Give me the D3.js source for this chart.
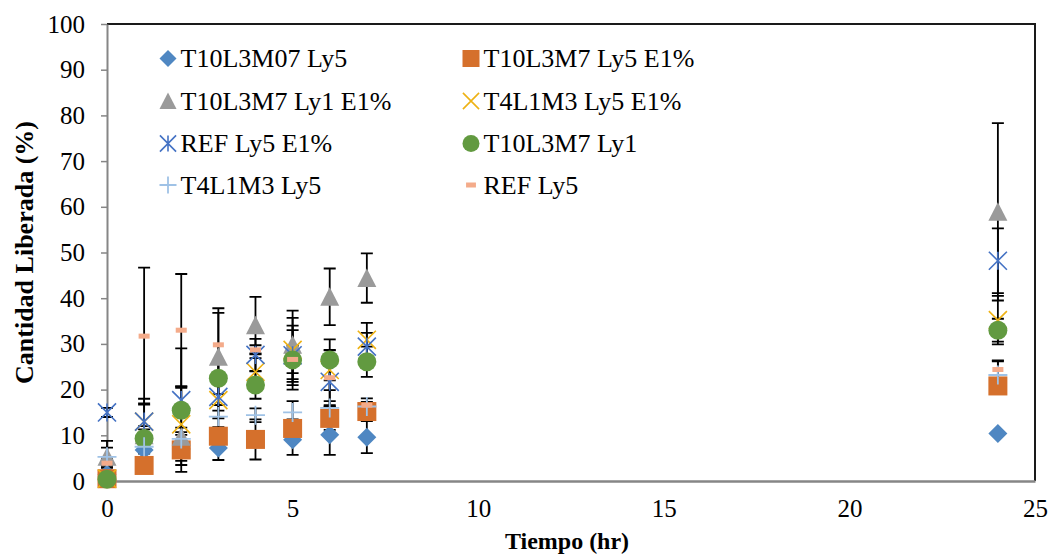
<!DOCTYPE html>
<html>
<head>
<meta charset="utf-8">
<script src="https://cdn.jsdelivr.net/npm/d3@7/dist/d3.min.js"></script>
<style>
  html, body { margin: 0; padding: 0; background: #ffffff; }
  svg { display: block; }
</style>
</head>
<body>
<svg id="chart" width="1051" height="557"></svg>
<script>
// Sampling times (hours)
const times = [0, 1, 2, 3, 4, 5, 6, 7, 24];

// Released amount (%) per formulation and its ± error
const t10l3m07Ly5      = [1.5, 6.8, 7.0, 7.2, 9.0, 9.0, 10.1, 9.6, 10.4];
const t10l3m07Ly5Err   = [0, 1.5, 1, 2.6, 1, 3.3, 4.4, 3.5, 0];
const t10l3m7Ly5E1     = [0.5, 3.4, 6.8, 9.8, 9.1, 11.5, 13.7, 15.2, 20.8];
const t10l3m7Ly5E1Err  = [0, 1, 3.3, 2, 4.4, 2, 2.5, 1.5, 1.5];
const t10l3m7Ly1E1     = [5.3, 10, 9.7, 27.2, 34.1, 29.8, 40.3, 44.4, 58.9];
const t10l3m7Ly1E1Err  = [3.5, 2, 2, 10.6, 6.2, 7.5, 6.2, 5.4, 19.4];
const t4l1m3Ly5E1      = [0.5, 13, 12.4, 17.7, 23.9, 28.7, 24.3, 30.9, 35.2];
const t4l1m3Ly5E1Err   = [0, 5, 8, 4, 3, 7, 4.4, 3.7, 5.3];
const refLy5E1         = [15, 13, 17.7, 18.4, 27.6, 27.5, 21.7, 29.4, 48.2];
const refLy5E1Err      = [1, 4, 3, 3, 3.5, 6.5, 5.4, 3, 7.1];
const t10l3m7Ly1       = [0.4, 9.3, 15.5, 22.5, 21, 26.5, 26.5, 26.1, 33];
const t10l3m7Ly1Err    = [0, 2, 13.5, 3.5, 3, 6.5, 4.5, 3.3, 2.5];
const t4l1m3Ly5        = [5.3, 7.5, 9.2, 14.1, 14.4, 15.0, 16.0, 16.3, 23.2];
const t4l1m3Ly5Err     = [2, 1.5, 1.5, 2.5, 1.5, 2.5, 1.5, 1, 3];
const refLy5           = [3.9, 31.7, 33, 29.8, 28.7, 26.6, 22.6, 16.6, 24.4];
const refLy5Err        = [1, 15, 12.3, 7, 1, 3, 6, 1.5, 2];

const seriesNames = [
  "T10L3M07 Ly5", "T10L3M7 Ly5 E1%", "T10L3M7 Ly1 E1%", "T4L1M3 Ly5 E1%",
  "REF Ly5 E1%", "T10L3M7 Ly1", "T4L1M3 Ly5", "REF Ly5"
];
const xTicks = [0, 5, 10, 15, 20, 25];
const yTicks = [0, 10, 20, 30, 40, 50, 60, 70, 80, 90, 100];

const seriesValues = [t10l3m07Ly5, t10l3m7Ly5E1, t10l3m7Ly1E1, t4l1m3Ly5E1,
                      refLy5E1, t10l3m7Ly1, t4l1m3Ly5, refLy5];
const seriesErrors = [t10l3m07Ly5Err, t10l3m7Ly5E1Err, t10l3m7Ly1E1Err, t4l1m3Ly5E1Err,
                      refLy5E1Err, t10l3m7Ly1Err, t4l1m3Ly5Err, refLy5Err];

// Marker styles, one per series
const markers = [
  { shape: "diamond",  color: "#4f87c2" },
  { shape: "square",   color: "#d5702c" },
  { shape: "triangle", color: "#9a9a9a" },
  { shape: "x",        color: "#eeb214" },
  { shape: "star",     color: "#4472c4" },
  { shape: "circle",   color: "#629a40" },
  { shape: "plus",     color: "#9fc2e6" },
  { shape: "dash",     color: "#f4ab8a" }
];

const series = seriesNames.map((name, i) => ({
  name,
  style: markers[i],
  points: times.map((t, j) => ({ t, v: seriesValues[i][j], e: seriesErrors[i][j] }))
}));

const svg = d3.select("#chart");
const W = 1051, H = 557;
const plot = { left: 107, right: 1035, top: 24, bottom: 481 };

const x = d3.scaleLinear().domain([0, 25]).range([plot.left, plot.right]);
const y = d3.scaleLinear().domain([0, 100]).range([plot.bottom, plot.top]);

svg.append("rect").attr("width", W).attr("height", H).attr("fill", "#ffffff");

// Plot frame (top and right edges)
svg.append("path")
  .attr("d", `M${plot.left},${plot.top}H${plot.right}V${plot.bottom}`)
  .attr("fill", "none").attr("stroke", "#1a1a1a").attr("stroke-width", 2);

const FONT = "'Liberation Serif', 'Times New Roman', serif";

// Y axis
const yAxis = svg.append("g")
  .attr("transform", `translate(${plot.left},0)`)
  .call(d3.axisLeft(y).tickValues(yTicks).tickSize(6).tickPadding(16).tickSizeOuter(0));
yAxis.select(".domain").attr("stroke", "#868686").attr("stroke-width", 2);
yAxis.selectAll(".tick line").attr("stroke", "#868686").attr("stroke-width", 1.5);
yAxis.selectAll(".tick text")
  .attr("font-family", FONT).attr("font-size", 25).attr("fill", "#000");

// X axis
const xAxis = svg.append("g")
  .attr("transform", `translate(0,${plot.bottom})`)
  .call(d3.axisBottom(x).tickValues(xTicks).tickSize(0).tickPadding(18).tickSizeOuter(0));
xAxis.select(".domain").attr("stroke", "#868686").attr("stroke-width", 2.5);
xAxis.selectAll(".tick text")
  .attr("font-family", FONT).attr("font-size", 25).attr("fill", "#000");

// Axis titles
svg.append("text")
  .attr("x", (plot.left + plot.right) / 2 - 4).attr("y", 549)
  .attr("text-anchor", "middle")
  .attr("font-family", FONT).attr("font-size", 24).attr("font-weight", "bold")
  .text("Tiempo (hr)");

svg.append("text")
  .attr("transform", `translate(33,${(plot.top + plot.bottom) / 2}) rotate(-90)`)
  .attr("text-anchor", "middle")
  .attr("font-family", FONT).attr("font-size", 26).attr("font-weight", "bold")
  .text("Cantidad Liberada (%)");

// Error bars (drawn beneath all markers)
const capHalf = 6;
const errLayer = svg.append("g");
series.forEach(s => {
  s.points.filter(p => p.e > 0).forEach(p => {
    const cx = x(p.t), yTop = y(p.v + p.e), yBot = y(p.v - p.e);
    errLayer.append("path")
      .attr("d", `M${cx},${yTop}V${yBot}M${cx - capHalf},${yTop}H${cx + capHalf}M${cx - capHalf},${yBot}H${cx + capHalf}`)
      .attr("fill", "none").attr("stroke", "#000").attr("stroke-width", 1.8);
  });
});

// Marker drawing helper
function drawMarker(g, style, cx, cy, size) {
  const h = size / 2;
  const c = style.color;
  switch (style.shape) {
    case "diamond":
      g.append("path").attr("d", `M${cx},${cy - h}L${cx + h},${cy}L${cx},${cy + h}L${cx - h},${cy}Z`)
        .attr("fill", c);
      break;
    case "square":
      g.append("rect").attr("x", cx - h).attr("y", cy - h).attr("width", size).attr("height", size)
        .attr("fill", c);
      break;
    case "triangle":
      g.append("path").attr("d", `M${cx},${cy - h}L${cx + h},${cy + h * 0.95}L${cx - h},${cy + h * 0.95}Z`)
        .attr("fill", c);
      break;
    case "circle":
      g.append("circle").attr("cx", cx).attr("cy", cy).attr("r", h).attr("fill", c);
      break;
    case "x": {
      const k = h * 0.95;
      g.append("path").attr("d", `M${cx - k},${cy - k}L${cx + k},${cy + k}M${cx - k},${cy + k}L${cx + k},${cy - k}`)
        .attr("stroke", c).attr("stroke-width", 1.6).attr("fill", "none");
      break;
    }
    case "star": {
      const k = h * 0.95;
      g.append("path").attr("d", `M${cx - k},${cy - k}L${cx + k},${cy + k}M${cx - k},${cy + k}L${cx + k},${cy - k}M${cx},${cy - k}V${cy + k}`)
        .attr("stroke", c).attr("stroke-width", 1.6).attr("fill", "none");
      break;
    }
    case "plus":
      g.append("path").attr("d", `M${cx - h},${cy}H${cx + h}M${cx},${cy - h}V${cy + h}`)
        .attr("stroke", c).attr("stroke-width", 1.8).attr("fill", "none");
      break;
    case "dash":
      g.append("rect").attr("x", cx - size * 0.29).attr("y", cy - 2.5)
        .attr("width", size * 0.58).attr("height", 5).attr("fill", c);
      break;
  }
}

// Data markers
const markLayer = svg.append("g");
series.forEach(s => {
  const g = markLayer.append("g").attr("class", "series");
  s.points.forEach(p => drawMarker(g, s.style, x(p.t), y(p.v), 19));
});

// Legend: two columns, four rows
const legend = svg.append("g");
const colMarkerX = [168, 471];
const rowY = [58.5, 101, 143.5, 185];
series.forEach((s, i) => {
  const col = i % 2, row = Math.floor(i / 2);
  const mx = colMarkerX[col], my = rowY[row];
  drawMarker(legend, s.style, mx, my, 17);
  legend.append("text")
    .attr("x", mx + 12.5).attr("y", my + 8.5)
    .attr("font-family", FONT).attr("font-size", 26).attr("fill", "#000")
    .text(s.name);
});
</script>
</body>
</html>
